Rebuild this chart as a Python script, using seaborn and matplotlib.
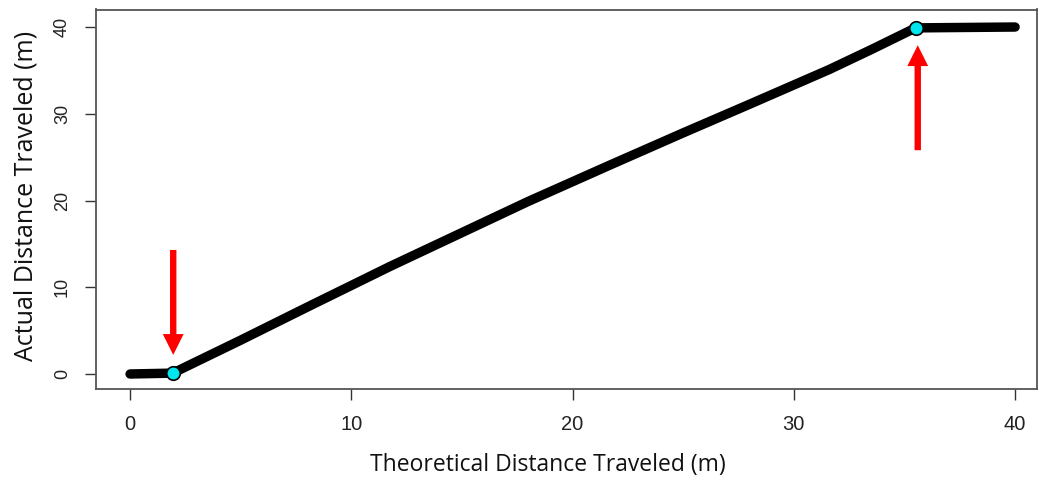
import matplotlib
matplotlib.use("Agg")
import matplotlib.pyplot as plt
from matplotlib.patches import FancyArrowPatch, ArrowStyle
import seaborn as sns
import pandas as pd

# Path traced by the vehicle: theoretical vs actual distance (m)
theoretical = [0.0, 1.93, 5.0, 8.0, 11.75, 15.0, 18.0, 21.7, 25.0, 28.0, 31.6, 33.5, 35.5, 40.0]
actual = [0.0, 0.1, 3.9, 7.7, 12.4, 16.3, 19.9, 24.1, 27.8, 31.1, 35.1, 37.4, 39.9, 40.0]

# Start / stop points of motion
event_x = [1.93, 35.5]
event_y = [0.1, 39.9]

# Arrows pointing at the events (tail, tip)
arrow_x = [1.95, 35.6]
arrow_tail = [14.3, 25.8]
arrow_tip = [2.2, 37.9]

x_ticks = [0, 10, 20, 30, 40]
y_ticks = [0, 10, 20, 30, 40]

sns.set_theme(style="white")
plt.rcParams["font.family"] = ["Liberation Sans", "DejaVu Sans"]

fig = plt.figure(figsize=(10.39, 4.79), dpi=100)
ax = fig.add_axes([96 / 1039, 1 - 389 / 479, (1037 - 96) / 1039, (389 - 9.5) / 479])

df = pd.DataFrame({"theoretical": theoretical, "actual": actual})
sns.lineplot(data=df, x="theoretical", y="actual", ax=ax, color="black",
             linewidth=6.8, solid_capstyle="round", solid_joinstyle="round",
             sort=False, zorder=2)

ev = pd.DataFrame({"x": event_x, "y": event_y})
sns.scatterplot(data=ev, x="x", y="y", ax=ax, color="#00E5EE", edgecolor="black",
                linewidth=1.2, s=95, zorder=3)

arrow_style = ArrowStyle.Simple(head_length=15, head_width=15, tail_width=4.6)
for ax_x, y0, y1 in zip(arrow_x, arrow_tail, arrow_tip):
    ax.add_patch(FancyArrowPatch((ax_x, y0), (ax_x, y1), arrowstyle=arrow_style,
                                 mutation_scale=1, color="#FF0000", lw=0,
                                 shrinkA=0, shrinkB=0, zorder=4))

ax.set_xlim(-1.54, 40.99)
ax.set_ylim(-1.73, 42.02)
ax.set_xticks(x_ticks)
ax.set_yticks(y_ticks)
ax.set_xticklabels([str(t) for t in x_ticks], fontsize=14.5, color="#222222")
ax.set_yticklabels([str(t) for t in y_ticks], fontsize=13, color="#222222",
                   rotation=90, va="center",
                   family=["Liberation Sans Narrow", "Liberation Sans"])
ax.tick_params(axis="both", direction="out", length=8, width=1.0, color="#333333",
               bottom=True, left=True)
ax.tick_params(axis="x", pad=11)
ax.tick_params(axis="y", pad=10)

for sp in ax.spines.values():
    sp.set_visible(True)
    sp.set_color("#555555")
    sp.set_linewidth(1.3)

ax.set_xlabel("")
ax.set_ylabel("")
fig.text(548 / 1039, 1 - 471 / 479, "Theoretical Distance Traveled (m)",
         ha="center", va="baseline", fontsize=16.5,
         family=["Open Sans", "DejaVu Sans"], color="#111111")
fig.text(26 / 1039, 1 - 196 / 479, "Actual Distance Traveled (m)",
         ha="center", va="center", fontsize=18, rotation=90,
         family=["Open Sans", "DejaVu Sans"], color="#111111")

fig.savefig("out.png", dpi=100, facecolor="white")
